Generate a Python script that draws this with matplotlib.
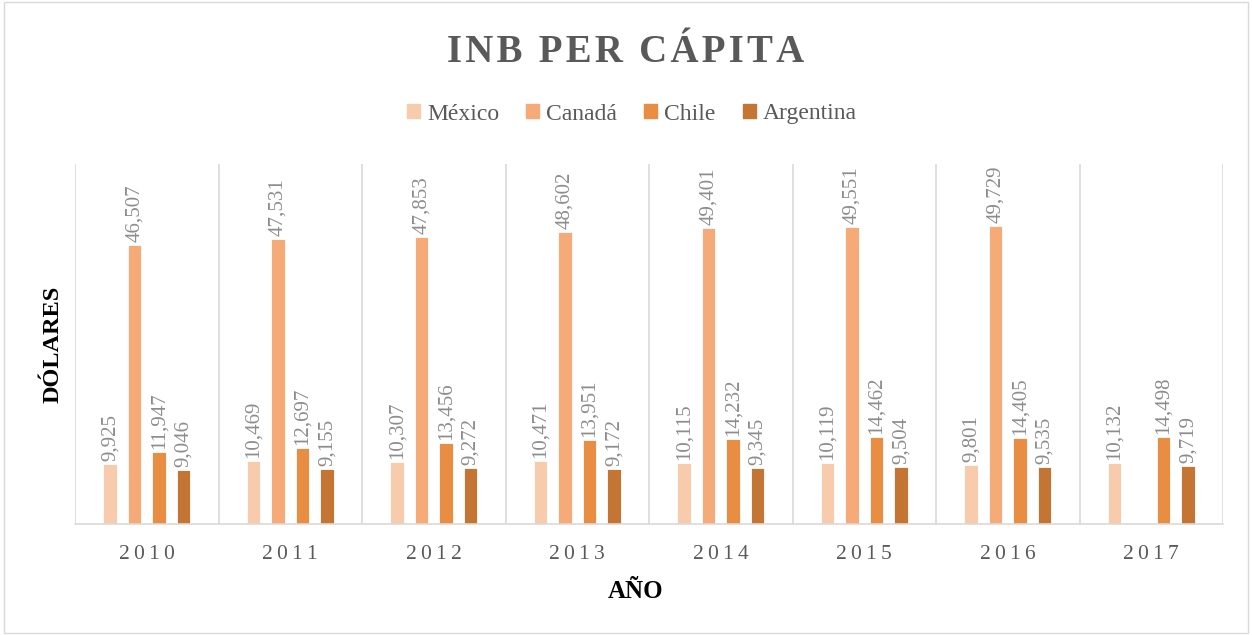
import numpy as np
import matplotlib
matplotlib.use("Agg")
import matplotlib.pyplot as plt
from matplotlib.patches import Rectangle

# ---------------- DATA ----------------
years = ["2010", "2011", "2012", "2013", "2014", "2015", "2016", "2017"]
mexico = [9925, 10469, 10307, 10471, 10115, 10119, 9801, 10132]
canada = [46507, 47531, 47853, 48602, 49401, 49551, 49729, None]
chile = [11947, 12697, 13456, 13951, 14232, 14462, 14405, 14498]
argentina = [9046, 9155, 9272, 9172, 9345, 9504, 9535, 9719]
series_names = ["México", "Canadá", "Chile", "Argentina"]

colors = ["#F8CBAD", "#F5AA77", "#E88D42", "#C47534"]
series = [mexico, canada, chile, argentina]

plt.rcParams['font.family'] = ['Liberation Serif', 'DejaVu Serif']

fig = plt.figure(figsize=(12.52, 6.35), dpi=100)
ax = fig.add_axes([75/1252, 1-524/635, (1223-75)/1252, (524-164)/635])

x = np.arange(len(years))
stride = 0.171
width = 0.094
for i, (vals, c) in enumerate(zip(series, colors)):
    off = (i - 1.5) * stride
    for j, v in enumerate(vals):
        if v is None:
            continue
        ax.bar(x[j] + off, v, width=width, color=c, edgecolor="white", linewidth=0.6)
        ax.text(x[j] + off, v + 500, f"{v:,}", rotation=90, ha="center", va="bottom",
                fontsize=15, color="#8C8C8C")

ax.set_xlim(-0.5, len(years) - 0.5)
ax.set_ylim(0, 60000)
ax.set_yticks([])
ax.set_xticks(x)
ax.set_xticklabels(["\u2009".join(y) for y in years], fontsize=15.5, color="#595959")
ax.tick_params(axis="x", length=0, pad=15)
for b in np.arange(-0.5, len(years) + 0.5, 1):
    ax.axvline(b, color="#D9D9D9", linewidth=1.2, zorder=0)
for s in ["top", "right", "left"]:
    ax.spines[s].set_visible(False)
ax.spines["bottom"].set_color("#D9D9D9")
ax.spines["bottom"].set_linewidth(1.2)

ax.set_xlabel("AÑO", fontsize=18, fontweight="bold", color="black")
ax.xaxis.set_label_coords((636 - 75) / 1148, -56 / 360)
ax.set_ylabel("DÓLARES", fontsize=17.5, fontweight="bold", color="black")
ax.yaxis.set_label_coords(-11 / 1148, 0.5)

fig.text(0.5, 1-53/635, "\u200a".join("INB PER CÁPITA"), ha="center", va="center",
         fontsize=28, fontweight="bold", color="#595959")

handles = [Rectangle((0, 0), 1, 1, color=c) for c in colors]
fig.legend(handles, series_names, loc="center", bbox_to_anchor=(632/1252, 1-114/635), ncol=4,
           frameon=False, fontsize=17, labelcolor="#595959", handlelength=0.55,
           handleheight=0.55, handletextpad=0.3, columnspacing=1.15)

fig.patches.append(Rectangle((0.003, 0.003), 0.994, 0.994, transform=fig.transFigure,
                             fill=False, edgecolor="#D9D9D9", linewidth=1))

fig.savefig("out.png", dpi=100)
